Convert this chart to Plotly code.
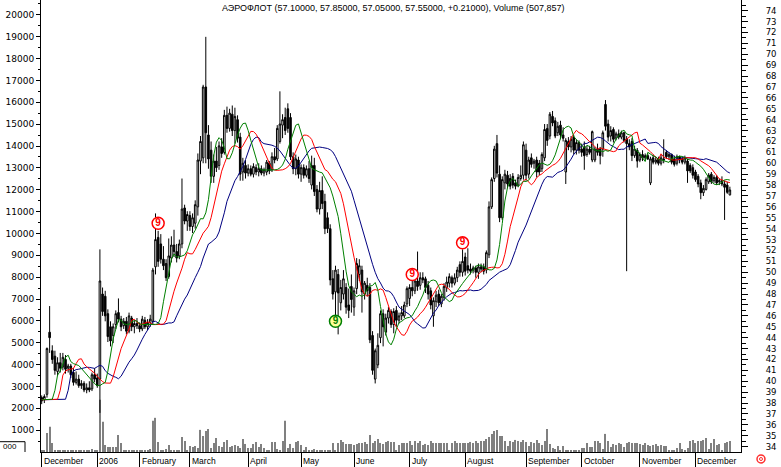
import plotly.graph_objects as go
import pandas as pd

# ---- trading calendar (trading days per month) ----
month_labels = ["December", "2006", "February", "March", "April", "May", "June",
                "July", "August", "September", "October", "November", "December"]
days_per_month = [21, 16, 19, 22, 20, 20, 21, 21, 23, 21, 22, 21, 14]

# ---- OHLC (rubles) ----
open_px = [
    38.5, 38.3, 38.8, 44.5, 42.8, 42.3, 40.9, 41.7, 41.3, 42.0, 41.2, 41.4, 40.8, 39.9, 40.2, 39.6, 39.8, 39.2, 39.4, 39.3, 40.6,
    40.3, 40.2, 48.0, 47.8, 46.2, 45.0, 44.2, 45.2, 46.3, 45.7, 45.1, 45.5, 44.6, 45.8, 45.0, 45.3,
    45.1, 44.8, 45.6, 45.0, 45.4, 45.5, 50.5, 53.2, 52.6, 51.2, 50.8, 49.6, 51.3, 52.5, 51.9, 51.5, 52.6, 55.9, 54.7,
    55.2, 54.2, 54.5, 56.0, 60.2, 60.5, 67.0, 62.6, 61.2, 58.8, 60.2, 59.8, 61.5, 61.0, 64.4, 63.2, 64.5, 63.0, 64.0, 62.4, 59.2, 59.8,
    59.1, 59.5, 59.0, 59.6, 59.2, 59.5, 59.1, 59.2, 60.0, 59.4, 60.6, 60.4, 62.0, 63.5, 64.2, 65.0, 64.2, 60.6, 59.5, 60.3,
    59.0, 59.6, 58.9, 59.5, 58.0, 59.8, 57.6, 55.8, 57.5, 56.5, 55.0, 54.0, 49.4, 48.2, 49.8, 47.2, 48.0, 48.6, 47.0, 48.7,
    46.8, 48.5, 49.8, 50.2, 48.0, 48.8, 48.6, 44.2, 40.2, 41.5, 44.0, 46.2, 44.5, 45.8, 46.4, 45.2, 46.5, 45.6, 46.0, 46.0, 47.1,
    47.6, 48.6, 48.3, 49.2, 48.8, 49.5, 49.4, 48.8, 48.3, 46.0, 47.3, 48.0, 47.1, 47.7, 48.6, 49.0, 49.5, 49.0, 49.5, 50.7, 50.0,
    51.4, 50.6, 50.3, 50.2, 50.4, 50.0, 50.5, 50.5, 50.2, 51.6, 56.0, 58.6, 61.8, 59.0, 55.0, 58.2, 58.9, 58.6, 58.8, 58.2, 58.0, 58.6, 58.9,
    61.2, 59.0, 60.5, 60.0, 60.3, 60.0, 59.5, 60.5, 63.2, 62.5, 64.3, 63.9, 62.8, 63.5, 62.6, 59.2, 62.0, 61.5, 62.4, 61.2, 61.9,
    61.3, 61.5, 60.8, 61.3, 60.3, 60.3, 61.3, 61.3, 61.3, 65.4, 63.6, 62.5, 63.1, 62.3, 62.7, 62.4, 62.8, 62.2, 61.8, 62.0, 60.7, 61.2,
    60.3, 60.8, 60.5, 60.7, 58.2, 60.5, 60.1, 60.4, 60.0, 60.4, 61.0, 60.6, 60.8, 60.4, 60.0, 60.6, 60.4, 60.1, 60.2, 59.8, 59.6,
    59.2, 58.8, 58.2, 57.3, 57.6, 58.3, 59.0, 58.4, 58.7, 58.3, 58.4, 58.1, 58.0, 57.10,
]
high_px = [
    38.7, 38.8, 43.1, 46.9, 43.3, 42.8, 42.2, 42.6, 42.6, 42.4, 41.6, 41.6, 41.2, 40.9, 40.6, 40.1, 40.0, 39.8, 40.0, 40.8, 41.2,
    40.7, 52.1, 48.6, 48.3, 46.6, 45.5, 45.3, 46.5, 47.6, 46.0, 45.8, 45.9, 46.3, 46.0, 45.6, 45.8,
    45.4, 46.0, 45.9, 45.7, 46.1, 50.4, 55.4, 53.8, 53.5, 52.4, 51.2, 53.1, 53.3, 53.9, 52.6, 53.0, 58.6, 56.2, 55.6,
    55.6, 55.4, 56.6, 60.9, 62.5, 67.2, 71.6, 63.5, 62.0, 60.8, 61.5, 62.0, 62.3, 64.9, 65.2, 65.0, 65.3, 65.1, 64.4, 62.8, 60.5, 60.3,
    59.9, 59.8, 60.0, 59.9, 60.0, 59.8, 59.6, 60.3, 60.2, 61.0, 61.4, 63.5, 66.6, 64.5, 65.1, 65.5, 64.6, 61.0, 60.8, 60.6,
    59.9, 59.9, 59.8, 60.2, 60.7, 60.5, 58.0, 58.3, 58.8, 57.2, 55.5, 54.4, 50.2, 50.6, 50.3, 49.3, 50.2, 49.0, 48.5, 49.8,
    48.6, 51.3, 51.2, 50.6, 49.2, 49.5, 49.0, 44.6, 43.0, 44.4, 46.5, 46.6, 46.2, 46.8, 46.6, 46.7, 46.9, 46.3, 46.9, 47.3, 48.7,
    48.9, 49.3, 49.6, 51.9, 50.0, 50.0, 49.6, 49.2, 48.6, 47.7, 48.3, 48.4, 48.0, 49.0, 49.6, 49.9, 49.7, 49.9, 50.5, 51.0, 52.1,
    51.8, 52.2, 50.8, 50.6, 50.6, 50.8, 50.8, 50.8, 52.0, 56.5, 58.7, 61.6, 62.6, 59.8, 58.8, 59.4, 59.3, 59.0, 59.1, 58.5, 59.0, 59.8, 62.0,
    61.8, 60.6, 60.9, 60.4, 60.6, 60.3, 61.0, 63.6, 63.6, 64.7, 64.8, 64.2, 63.8, 63.9, 63.3, 62.3, 62.4, 62.5, 62.6, 62.2, 62.1,
    61.8, 62.0, 61.6, 61.6, 63.0, 61.5, 61.8, 61.5, 63.0, 65.8, 64.0, 63.4, 63.3, 62.9, 63.1, 63.0, 62.9, 62.5, 62.2, 62.3, 61.6, 61.4,
    61.0, 61.2, 60.9, 60.9, 60.6, 60.8, 60.6, 60.6, 60.8, 62.2, 61.2, 61.0, 60.9, 60.7, 60.8, 60.7, 60.6, 60.7, 60.4, 60.0, 59.9,
    59.4, 59.0, 58.5, 58.0, 58.7, 59.1, 59.2, 58.9, 58.9, 58.6, 58.8, 58.4, 58.3, 57.85,
]
low_px = [
    37.9, 38.0, 38.5, 42.6, 41.6, 40.6, 40.5, 40.8, 41.0, 40.7, 40.8, 40.3, 39.6, 39.7, 39.4, 39.3, 39.0, 38.9, 39.0, 39.1, 39.9,
    39.4, 37.1, 46.0, 45.5, 43.6, 43.2, 43.5, 44.8, 45.4, 44.6, 44.8, 44.3, 44.4, 44.6, 44.4, 44.8,
    44.5, 44.6, 44.8, 44.7, 45.0, 45.2, 49.8, 50.5, 50.8, 50.2, 49.2, 49.4, 50.9, 51.4, 50.9, 51.2, 52.2, 54.4, 53.8,
    53.8, 53.6, 54.0, 55.2, 59.0, 60.0, 60.0, 59.5, 58.2, 58.2, 59.2, 59.4, 60.5, 60.8, 62.8, 62.9, 62.5, 61.8, 61.9, 58.4, 58.4, 58.6,
    58.8, 58.8, 58.7, 58.9, 58.8, 58.9, 58.8, 58.9, 59.0, 59.2, 60.0, 60.2, 61.8, 62.3, 62.6, 62.8, 60.3, 59.0, 58.9, 58.6,
    58.3, 58.6, 58.7, 58.2, 57.6, 57.0, 55.5, 55.3, 55.8, 53.5, 53.6, 48.8, 47.5, 45.8, 44.3, 46.5, 47.5, 46.2, 45.8, 46.3,
    46.0, 48.0, 49.2, 46.3, 47.5, 47.8, 43.5, 40.6, 39.8, 41.2, 43.5, 43.2, 44.2, 45.3, 44.9, 44.4, 45.0, 45.3, 45.6, 45.8, 46.8,
    46.9, 47.8, 48.0, 48.3, 48.4, 49.0, 48.1, 47.5, 46.6, 45.0, 46.8, 46.9, 46.8, 47.4, 48.2, 48.6, 48.6, 48.8, 49.1, 49.6, 49.6,
    49.7, 49.9, 49.8, 49.9, 49.5, 49.4, 50.0, 49.8, 49.9, 51.3, 55.8, 58.3, 58.7, 54.6, 54.8, 57.6, 57.7, 57.6, 57.7, 57.6, 57.8, 58.4, 58.5,
    58.4, 58.6, 59.6, 59.5, 58.7, 58.9, 59.2, 60.2, 61.6, 62.2, 63.4, 62.3, 62.5, 62.2, 62.0, 58.1, 61.2, 61.0, 60.8, 60.8, 60.9,
    60.6, 59.4, 60.6, 60.8, 60.1, 60.1, 60.7, 59.9, 60.6, 63.0, 62.0, 62.0, 61.9, 62.1, 62.2, 62.2, 61.9, 50.1, 61.2, 60.2, 60.5, 59.6,
    60.1, 60.2, 60.3, 60.3, 58.0, 59.9, 59.9, 59.8, 59.8, 60.0, 60.4, 60.3, 59.9, 59.7, 59.8, 60.0, 59.9, 59.9, 58.2, 59.1, 58.6,
    58.3, 57.8, 56.7, 57.0, 57.5, 58.1, 58.1, 58.2, 58.0, 58.0, 57.9, 54.8, 57.2, 57.05,
]
close_px = [
    38.2, 38.6, 43.0, 44.0, 42.0, 41.0, 41.7, 41.2, 42.2, 41.1, 41.4, 40.6, 39.9, 40.2, 39.6, 39.8, 39.2, 39.4, 39.2, 40.6, 40.2,
    39.6, 49.2, 46.4, 46.0, 44.1, 43.7, 45.0, 46.2, 45.7, 45.0, 45.5, 44.6, 46.0, 45.0, 45.3, 45.1,
    44.8, 45.7, 45.0, 45.4, 45.7, 50.2, 53.0, 51.0, 51.2, 50.6, 49.5, 51.5, 52.5, 51.9, 51.3, 52.6, 55.8, 54.7, 55.3,
    54.2, 55.0, 56.2, 60.3, 62.0, 67.0, 62.8, 60.4, 58.8, 60.2, 59.6, 61.6, 60.9, 64.4, 63.2, 64.6, 63.0, 64.3, 62.3, 59.0, 60.0, 59.1,
    59.5, 59.0, 59.7, 59.2, 59.5, 59.1, 59.4, 60.1, 59.3, 60.6, 60.3, 63.2, 63.6, 64.0, 63.0, 63.2, 60.6, 59.5, 60.4, 59.0,
    59.6, 58.9, 59.5, 58.6, 59.8, 57.4, 55.8, 57.5, 56.3, 54.0, 54.0, 49.3, 48.0, 50.2, 48.1, 48.6, 49.4, 46.8, 46.5, 47.5,
    48.3, 50.8, 50.6, 48.2, 49.0, 48.3, 43.8, 41.0, 42.8, 43.3, 46.2, 45.0, 45.8, 46.5, 45.2, 46.4, 45.6, 46.0, 46.3, 47.0, 48.5,
    48.6, 48.3, 49.2, 48.7, 49.5, 49.3, 48.6, 48.0, 47.0, 47.4, 47.9, 47.2, 47.8, 48.7, 49.1, 49.6, 49.0, 49.5, 50.2, 50.0, 51.0,
    50.1, 50.2, 50.1, 50.4, 50.0, 50.5, 50.3, 50.1, 51.8, 56.0, 58.5, 61.3, 59.1, 55.0, 58.5, 59.0, 58.1, 57.9, 58.0, 57.9, 58.7, 58.9, 61.7,
    58.9, 60.3, 59.9, 60.2, 59.2, 59.2, 60.8, 63.1, 62.1, 64.5, 63.7, 62.5, 63.4, 62.6, 62.3, 62.1, 61.5, 62.2, 61.2, 61.9, 61.2,
    61.0, 60.7, 61.3, 61.0, 62.9, 61.3, 61.0, 60.7, 62.8, 63.4, 62.4, 63.0, 62.2, 62.7, 62.4, 62.8, 62.1, 61.8, 61.5, 60.7, 61.3, 60.2,
    60.8, 60.5, 60.7, 60.4, 60.4, 60.1, 60.3, 60.0, 60.5, 60.3, 60.6, 60.8, 60.1, 59.9, 60.6, 60.3, 60.1, 60.5, 59.3, 59.3, 58.9,
    58.5, 58.1, 57.3, 57.7, 58.5, 58.9, 58.3, 58.7, 58.2, 58.4, 58.1, 57.8, 57.34, 57.55,
]
# ---- volume (thousands of shares) ----
volume_k = [
    78, 46, 874, 1150, 414, 46, 46, 46, 46, 69, 46, 46, 46, 92, 92, 92, 69, 46, 46, 138, 46,
    46, 2392, 1380, 322, 230, 230, 230, 230, 782, 414, 46, 46, 46, 92, 92, 69,
    92, 92, 92, 46, 138, 1426, 1564, 460, 92, 92, 138, 322, 92, 92, 69, 69, 690, 506, 92,
    276, 230, 276, 184, 1012, 736, 966, 1058, 184, 414, 644, 276, 230, 460, 552, 230, 276, 322, 276, 184, 598, 368,
    184, 184, 368, 460, 230, 368, 184, 92, 92, 460, 460, 138, 92, 506, 1426, 184, 368, 184, 460, 506,
    322, 46, 230, 46, 46, 138, 46, 46, 46, 92, 46, 92, 414, 92, 414, 552, 460, 368, 368, 368,
    322, 368, 414, 414, 460, 368, 782, 414, 506, 598, 414, 368, 460, 506, 460, 460, 92, 322, 414, 414, 414,
    506, 322, 506, 414, 506, 322, 368, 322, 506, 414, 414, 414, 414, 414, 414, 92, 414, 506, 414, 414, 414,
    414, 414, 460, 414, 506, 414, 506, 506, 598, 690, 828, 966, 1012, 736, 736, 506, 276, 506, 460, 552, 506, 460, 552,
    460, 276, 460, 414, 552, 414, 322, 506, 1058, 368, 184, 138, 276, 46, 276, 46, 46, 46, 69, 92, 46,
    184, 184, 414, 230, 230, 506, 506, 414, 138, 828, 506, 230, 368, 322, 414, 368, 230, 414, 460, 414, 414, 414,
    368, 322, 414, 322, 276, 322, 368, 276, 322, 276, 276, 92, 92, 46, 184, 414, 138, 46, 184, 506, 552,
    414, 506, 506, 552, 644, 138, 414, 598, 322, 368, 92, 414, 460, 507.857,
]
# ---- "9" signals ----
signal_bar = [44, 111, 140, 159]
signal_price = [54.5, 45.5, 49.8, 52.7]
signal_kind = ["sell", "buy", "sell", "sell"]

# ---- axis ticks ----
volume_ticks = list(range(1000, 20001, 1000))
price_ticks = list(range(34, 75))

n = len(close_px)
bar_index = list(range(n))
month_start = []
acc = 0
for d in days_per_month:
    month_start.append(acc)
    acc += d

# Alligator lines (moving averages of median price, shifted forward)
median = (pd.Series(high_px) + pd.Series(low_px)) / 2
def shifted_ma(series, period, shift):
    return series.rolling(period, min_periods=1).mean().shift(shift).bfill()
jaw = shifted_ma(median, 13, 8)
teeth = shifted_ma(median, 8, 5)
lips = shifted_ma(median, 5, 3)

fig = go.Figure()
fig.add_trace(go.Bar(x=bar_index, y=volume_k, yaxis="y", width=0.4,
                     marker=dict(color="#808080", line=dict(width=0)), hoverinfo="skip"))
fig.add_trace(go.Candlestick(x=bar_index, open=open_px, high=high_px, low=low_px, close=close_px,
                             yaxis="y2", whiskerwidth=0,
                             increasing=dict(line=dict(color="black", width=1), fillcolor="white"),
                             decreasing=dict(line=dict(color="black", width=1), fillcolor="black"),
                             hoverinfo="skip"))
for series, col in [(jaw, "#000080"), (teeth, "#ff0000"), (lips, "#008000")]:
    fig.add_trace(go.Scatter(x=bar_index, y=series, yaxis="y2", mode="lines",
                             line=dict(color=col, width=1), hoverinfo="skip"))

sig_fill = ["#ffffff" if k == "sell" else "#ffff99" for k in signal_kind]
sig_line = ["#ff0000" if k == "sell" else "#008000" for k in signal_kind]
fig.add_trace(go.Scatter(x=signal_bar, y=signal_price, yaxis="y2", mode="markers+text",
                         text=["<b>9</b>"] * len(signal_bar), textposition="middle center",
                         textfont=dict(family="Liberation Sans", size=10, color=sig_line),
                         marker=dict(size=12, color=sig_fill, line=dict(color=sig_line, width=1.5)),
                         hoverinfo="skip"))

annotations = []
for pos, lab in zip(month_start, month_labels):
    annotations.append(dict(x=pos, xref="x", y=0, yref="paper", yanchor="top", xanchor="left",
                            yshift=-2, xshift=0, text=lab, showarrow=False,
                            font=dict(family="Liberation Sans", size=8.5, color="black")))
title = "АЭРОФЛОТ ({:.5f}, {:.5f}, {:.5f}, {:.5f}, {:+.5f}), Volume ({:,})".format(
    open_px[-1], high_px[-1], low_px[-1], close_px[-1], close_px[-1] - close_px[-2],
    int(round(volume_k[-1] * 1000)))
annotations.append(dict(x=(220 - 41) / 700, xref="paper", y=1, yref="paper", yanchor="top",
                        xanchor="left", yshift=-1, text=title, showarrow=False,
                        font=dict(family="Liberation Sans", size=9, color="black")))
annotations.append(dict(x=(1 - 41) / 700, xref="paper", y=(452 - 446) / 452, yref="paper",
                        yanchor="middle", xanchor="left", text="000", showarrow=False,
                        font=dict(family="Liberation Sans", size=8, color="black")))

shapes = [
    dict(type="line", xref="paper", yref="paper", x0=-41 / 700, x1=(25 - 41) / 700,
         y0=(452 - 441.7) / 452, y1=(452 - 441.7) / 452, line=dict(color="black", width=1)),
    dict(type="line", xref="paper", yref="paper", x0=(25 - 41) / 700, x1=(25 - 41) / 700,
         y0=(452 - 441.7) / 452, y1=0, line=dict(color="black", width=1)),
    dict(type="circle", xref="paper", yref="paper", xsizemode="pixel", ysizemode="pixel",
         xanchor=(761 - 41) / 700, yanchor=(452 - 459) / 452, x0=-4, x1=4, y0=-4, y1=4,
         line=dict(color="#ff3030", width=1.5)),
    dict(type="circle", xref="paper", yref="paper", xsizemode="pixel", ysizemode="pixel",
         xanchor=(761 - 41) / 700, yanchor=(452 - 459) / 452, x0=-1.5, x1=1.5, y0=-1.5, y1=1.5,
         line=dict(color="#ff3030", width=1)),
]

fig.update_layout(
    width=781, height=467, margin=dict(l=41, r=40, t=0, b=15, pad=0, autoexpand=False),
    paper_bgcolor="white", plot_bgcolor="white", showlegend=False,
    boxgap=0.15,
    xaxis=dict(range=[-0.26, 264.2], rangeslider=dict(visible=False), showgrid=False, zeroline=False,
               showline=True, linecolor="black", linewidth=1, ticks="outside", ticklen=15,
               tickcolor="black", tickvals=month_start, ticktext=[""] * len(month_start),
               automargin=False, fixedrange=True),
    yaxis=dict(range=[0, 20680], side="left", showgrid=False, zeroline=False, showline=True,
               linecolor="black", linewidth=1, ticks="outside", ticklen=4, tickcolor="black",
               tickvals=volume_ticks, ticktext=[str(v) for v in volume_ticks],
               tickfont=dict(family="DejaVu Sans", size=9, color="black"),
               minor=dict(tickvals=[v - 500 for v in volume_ticks] + [20500], ticks="outside",
                          ticklen=2, tickcolor="black"),
               automargin=False, fixedrange=True),
    yaxis2=dict(range=[33.51, 74.98], side="right", overlaying="y", showgrid=False, zeroline=False,
                showline=True, linecolor="black", linewidth=1, ticks="outside", ticklen=6,
                tickcolor="black", tickvals=price_ticks, ticktext=[str(v) for v in price_ticks],
                tickfont=dict(family="DejaVu Sans", size=8.5, color="black"),
                ticklabelstandoff=16,
                minor=dict(tickvals=[v + 0.5 for v in price_ticks], ticks="outside",
                           ticklen=4, tickcolor="black"),
                automargin=False, fixedrange=True),
    annotations=annotations, shapes=shapes,
)

fig.write_html("out.html", config={"displayModeBar": False},
               post_script="document.body.style.margin='0';document.body.style.padding='0';"
                           "document.body.style.overflow='hidden';")
